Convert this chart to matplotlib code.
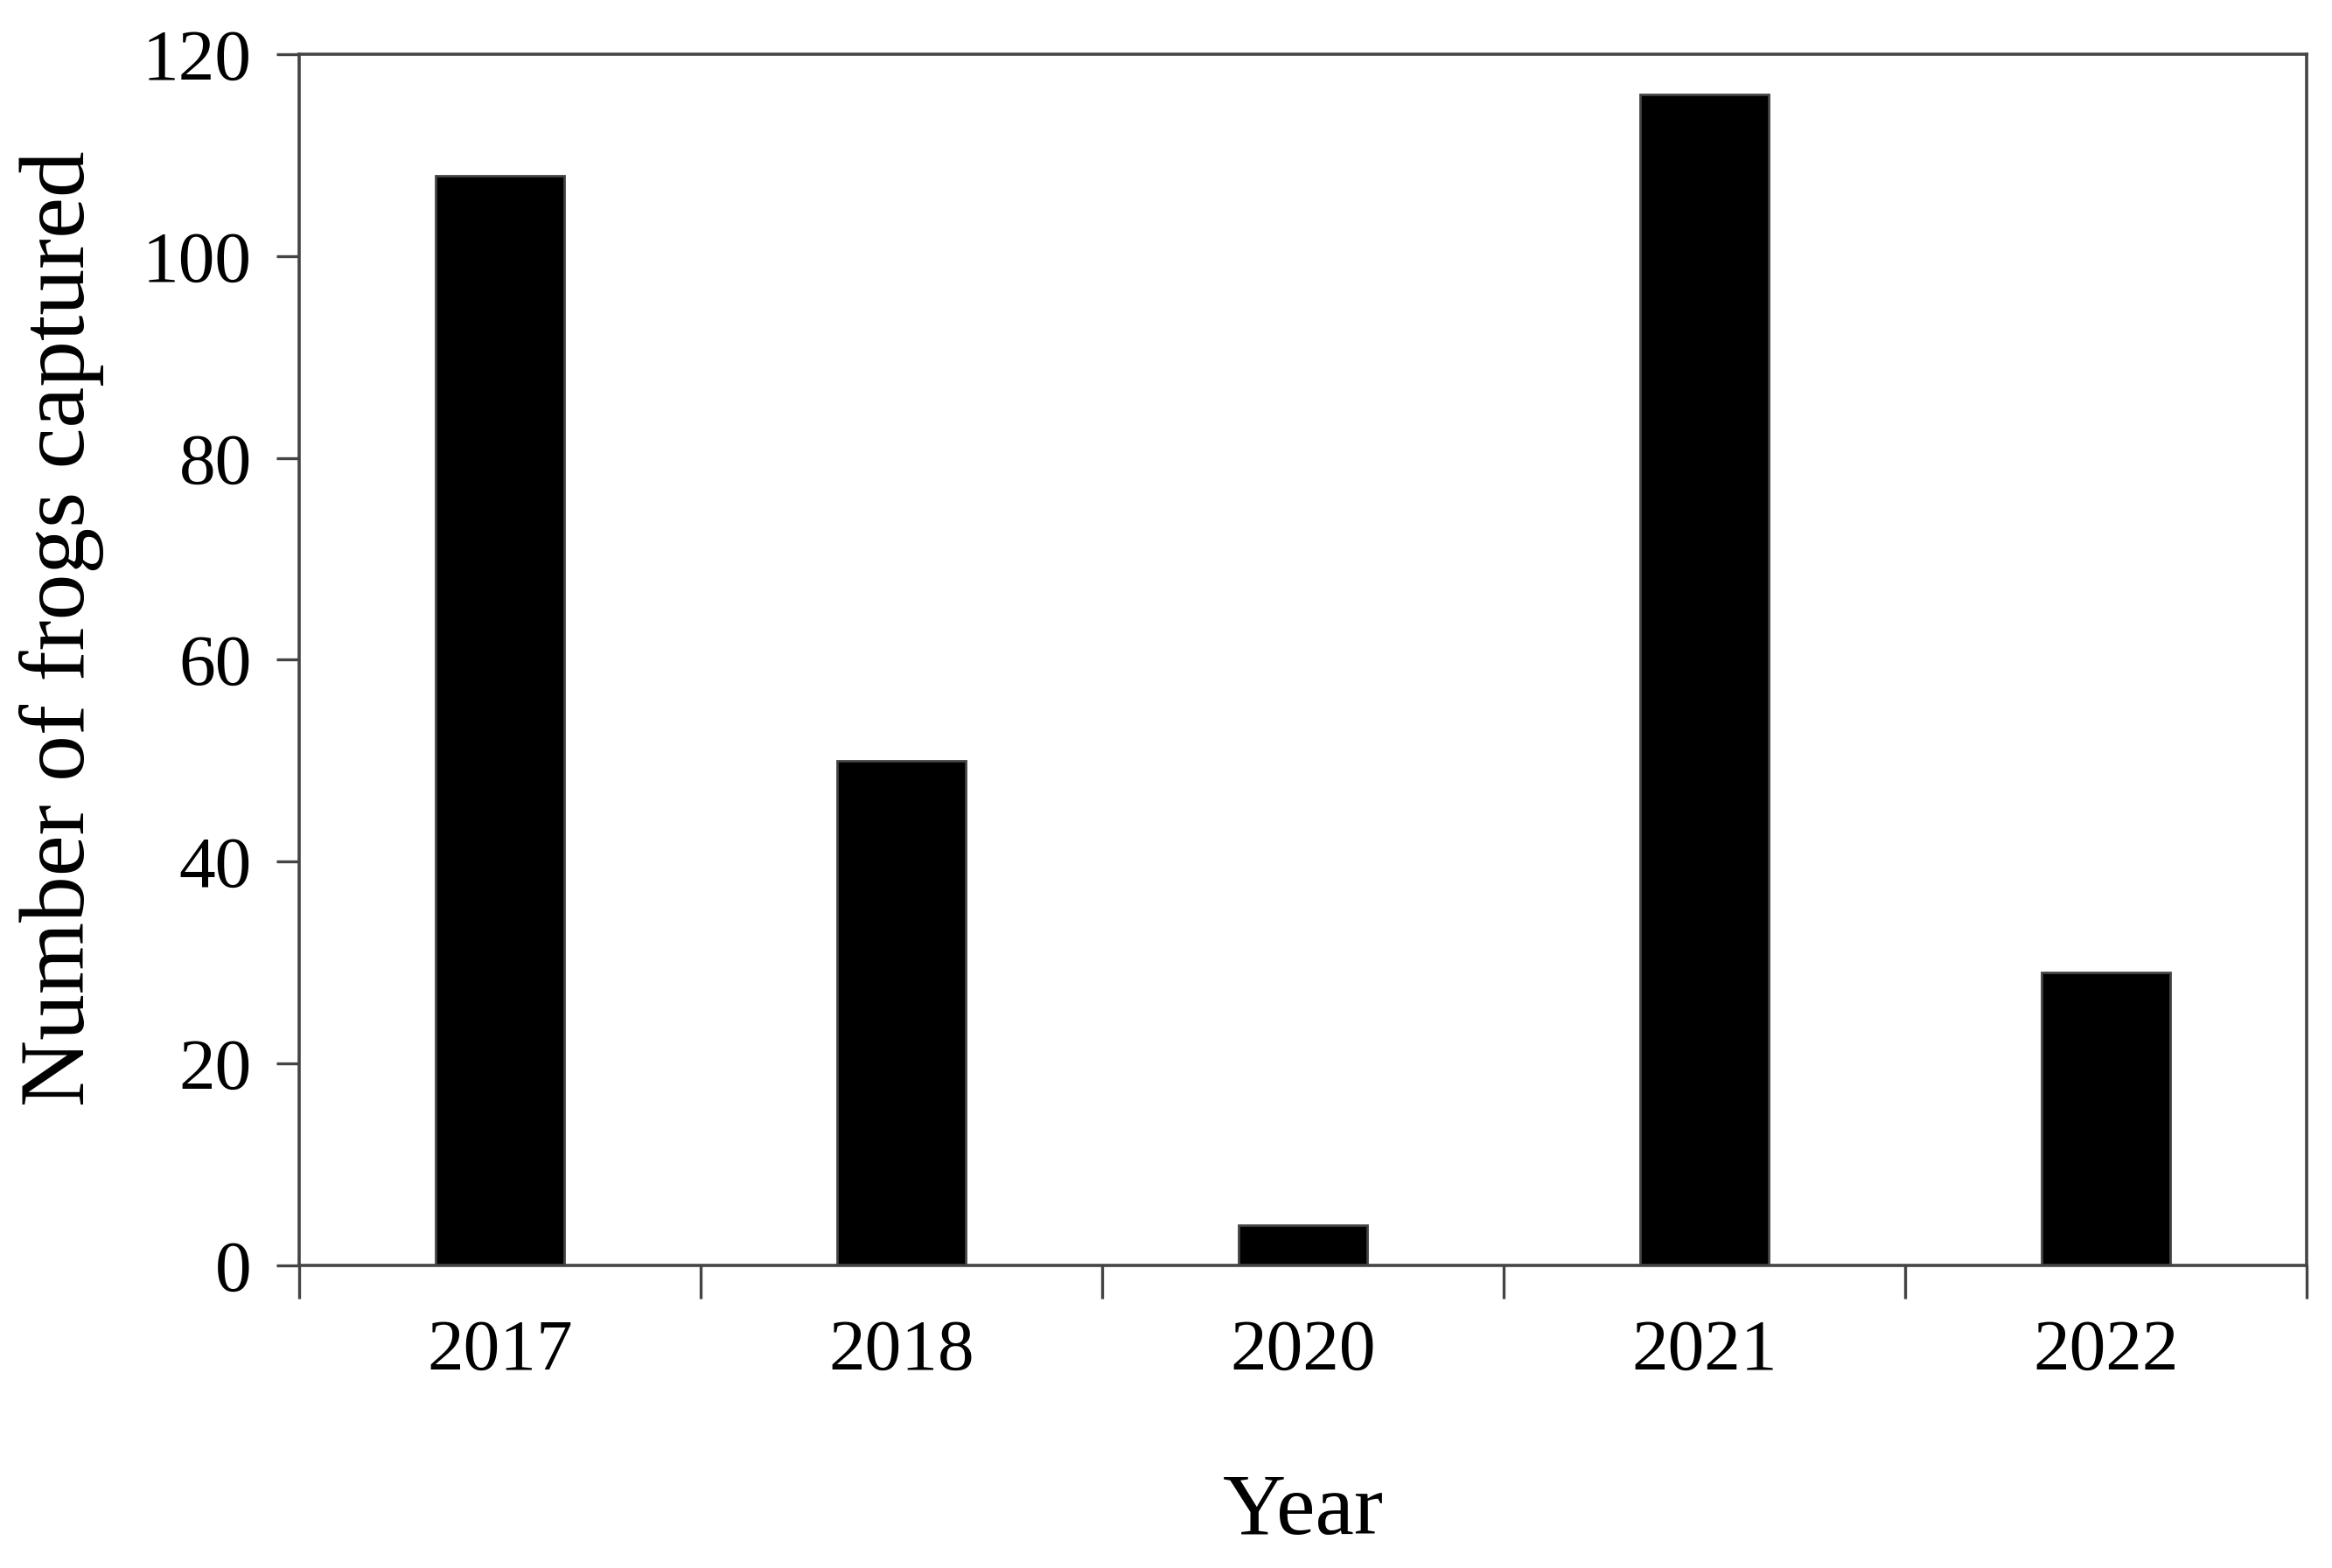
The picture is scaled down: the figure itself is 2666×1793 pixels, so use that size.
import matplotlib.pyplot as plt
import numpy as np

# Datos
years = ['2017', '2018', '2020', '2021', '2022']
frogs = [108, 50, 4, 116, 29]

plt.rcParams['font.family'] = ['Liberation Serif', 'DejaVu Serif']

fig = plt.figure(figsize=(13.33, 8.965), dpi=200)
ax = fig.add_axes([0.1283, 0.193, 0.8608, 0.7724])

x = np.arange(len(years))
ax.bar(x, frogs, width=0.32, color='black', edgecolor='#444444', linewidth=1.0)

ax.set_xlim(-0.5, len(years) - 0.5)
ax.set_ylim(0, 120)
ax.set_yticks(range(0, 121, 20))

# ticks mayores en los bordes de categoría, etiquetas en los centros
ax.set_xticks(np.arange(-0.5, len(years), 1.0))
ax.set_xticklabels([])
ax.set_xticks(x, minor=True)
ax.set_xticklabels(years, minor=True)
ax.tick_params(axis='x', which='major', direction='out', length=13.5, width=1.2, color='#444444')
ax.tick_params(axis='x', which='minor', length=0, pad=22, labelsize=30)
ax.tick_params(axis='y', direction='out', length=9.5, width=1.2, color='#444444', pad=10, labelsize=30)

for s in ax.spines.values():
    s.set_linewidth(1.3)
    s.set_color('#444444')

ax.set_ylabel('Number of frogs captured', fontsize=38)
ax.set_xlabel('Year', fontsize=36)
ax.yaxis.set_label_coords(-0.097, 0.526)
ax.xaxis.set_label_coords(0.5, -0.172)

fig.savefig('out.png', dpi=200)
